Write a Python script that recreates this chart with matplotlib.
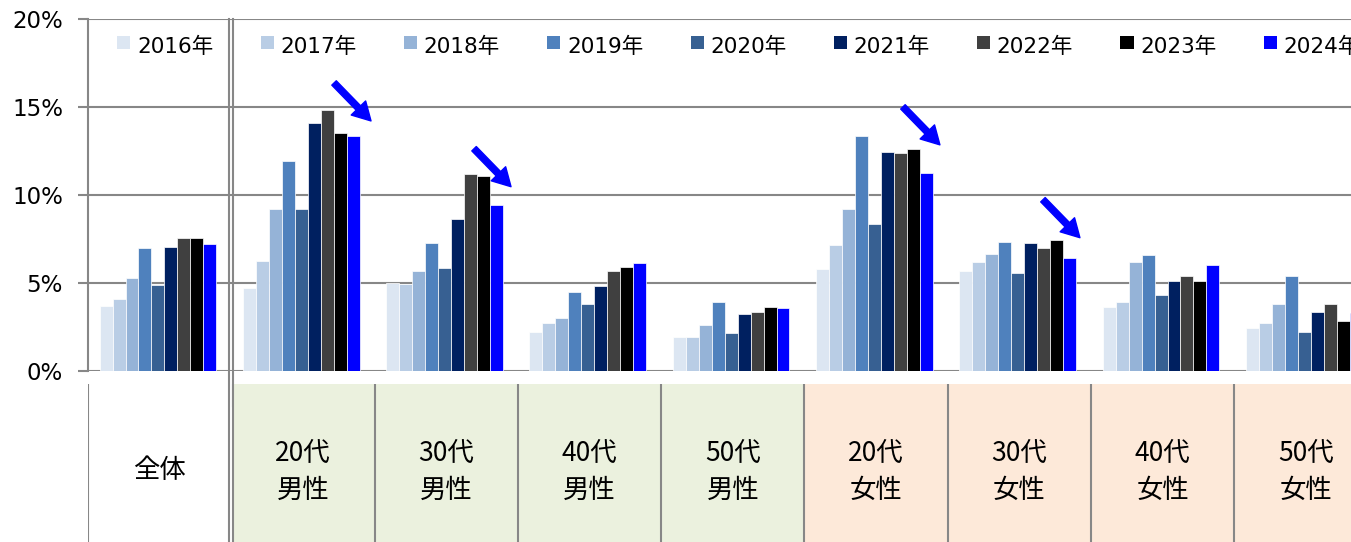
import matplotlib
matplotlib.use("Agg")
import matplotlib.pyplot as plt
from matplotlib.patches import Rectangle
import numpy as np

# ---------------- data ----------------
categories = ["全体", "20代\n男性", "30代\n男性", "40代\n男性", "50代\n男性",
              "20代\n女性", "30代\n女性", "40代\n女性", "50代\n女性"]
segments = ["all", "male", "male", "male", "male", "female", "female", "female", "female"]
years = ["2016年", "2017年", "2018年", "2019年", "2020年", "2021年", "2022年", "2023年", "2024年"]

v2016 = [3.72, 4.70, 4.99, 2.24, 1.96, 5.80, 5.69, 3.64, 2.45]
v2017 = [4.12, 6.27, 4.97, 2.75, 1.96, 7.17, 6.18, 3.93, 2.75]
v2018 = [5.31, 9.23, 5.69, 3.04, 2.64, 9.23, 6.67, 6.18, 3.83]
v2019 = [6.97, 11.97, 7.26, 4.50, 3.93, 13.36, 7.35, 6.58, 5.41]
v2020 = [4.91, 9.23, 5.88, 3.83, 2.17, 8.34, 5.59, 4.33, 2.24]
v2021 = [7.07, 14.13, 8.64, 4.82, 3.25, 12.46, 7.26, 5.10, 3.34]
v2022 = [7.54, 14.83, 11.20, 5.69, 3.34, 12.37, 6.97, 5.41, 3.83]
v2023 = [7.54, 13.54, 11.10, 5.89, 3.64, 12.65, 7.47, 5.10, 2.85]
v2024 = [7.20, 13.39, 9.44, 6.12, 3.57, 11.25, 6.41, 6.01, 3.28]
series = [v2016, v2017, v2018, v2019, v2020, v2021, v2022, v2023, v2024]

colors = ["#DCE6F2", "#B9CDE5", "#95B3D7", "#4F81BD", "#376092",
          "#002060", "#404040", "#000000", "#0000FF"]
segment_fill = {"all": "#FFFFFF", "male": "#EBF1DE", "female": "#FDE9D9"}

# annotation arrows (group index, tip x offset, tip y value)
arrow_groups = [1, 2, 5, 6]
arrow_tip_dx = [0.475, 0.452, 0.445, 0.422]
arrow_tip_y = [14.22, 10.48, 12.86, 7.58]

# ---------------- layout ----------------
W, H = 1351, 542
fig = plt.figure(figsize=(W / 100, H / 100), dpi=100)
LATIN = ["DejaVu Sans", "Noto Sans CJK JP"]
CJK = ["Noto Sans CJK JP", "DejaVu Sans"]

left_px, pitch_px = 88, 143.3
ax_w = 9 * pitch_px / W
ax = fig.add_axes([left_px / W, (H - 371) / H, ax_w, (371 - 19.3) / H])
tax = fig.add_axes([left_px / W, 0, ax_w, (H - 383.5) / H])

grid_col = "#878787"
n = len(categories)
x = np.arange(n)
bw = 0.0905
shift = -0.012

for j, (vals, c) in enumerate(zip(series, colors)):
    ax.bar(x + (j - 4) * bw + shift, vals, width=bw, color=c,
           edgecolor="white", linewidth=0.5, zorder=3)

ax.set_xlim(-0.5, n - 0.5)
ax.set_ylim(0, 20)
ax.set_yticks([0, 5, 10, 15, 20])
ax.set_yticklabels(["0%", "5%", "10%", "15%", "20%"], family=LATIN, fontsize=16.5)
ax.set_xticks([])
ax.tick_params(axis="y", length=7, width=1.5, color=grid_col, pad=11)
for y in [0, 5, 10, 15, 20]:
    ax.axhline(y, color=grid_col, linewidth=1.5, zorder=2)
for s in ["top", "right", "bottom"]:
    ax.spines[s].set_visible(False)
ax.spines["left"].set_color(grid_col)
ax.spines["left"].set_linewidth(1.5)

# double separator line after 全体
for xd in [0.4805, 0.5098]:
    ax.axvline(xd, ymin=-0.1, ymax=1, color=grid_col, linewidth=1.5,
               clip_on=False, zorder=4)

# legend (aligned with groups)
for i, (lab, c) in enumerate(zip(years, colors)):
    gx = i
    ax.add_patch(Rectangle((gx - 0.2955, 18.33), 0.092, 0.72, facecolor=c,
                           edgecolor="none", zorder=5))
    ax.text(gx - 0.158, 18.42, lab, family=LATIN, fontsize=15.5,
            va="center", ha="left", zorder=5)

# arrows
for g, dx, ty in zip(arrow_groups, arrow_tip_dx, arrow_tip_y):
    ax.annotate("", xy=(g + dx, ty), xytext=(g + dx - 0.258, ty + 2.16),
                arrowprops=dict(arrowstyle="simple,head_length=1.3,head_width=1.45,tail_width=0.45",
                                color="#0000FF", shrinkA=0, shrinkB=0,
                                mutation_scale=10), zorder=6)

# ---------------- table below ----------------
tax.set_xlim(-0.5, n - 0.5)
tax.set_ylim(0, 1)
tax.axis("off")
for i, seg in enumerate(segments):
    x0 = i - 0.5 if i > 0 else -0.5
    if i == 1:
        x0 = 0.5098
    tax.add_patch(Rectangle((x0, 0), i + 0.5 - x0, 1, facecolor=segment_fill[seg],
                            edgecolor="none", zorder=1))
for xb in [-0.5] + [k + 0.5 for k in range(1, n)]:
    tax.axvline(xb, color=grid_col, linewidth=1.5, zorder=2)
for xd in [0.4805, 0.5098]:
    tax.axvline(xd, color=grid_col, linewidth=1.5, zorder=2)

for i, cat in enumerate(categories):
    lines = cat.split("\n")
    if len(lines) == 1:
        tax.text(i, 0.454, lines[0], family=CJK, fontsize=19, ha="center", va="center", zorder=3)
    else:
        tax.text(i, 0.5615, lines[0], family=CJK, fontsize=19, ha="center", va="center", zorder=3)
        tax.text(i, 0.328, lines[1], family=CJK, fontsize=19, ha="center", va="center", zorder=3)

fig.savefig("out.png", dpi=100)
